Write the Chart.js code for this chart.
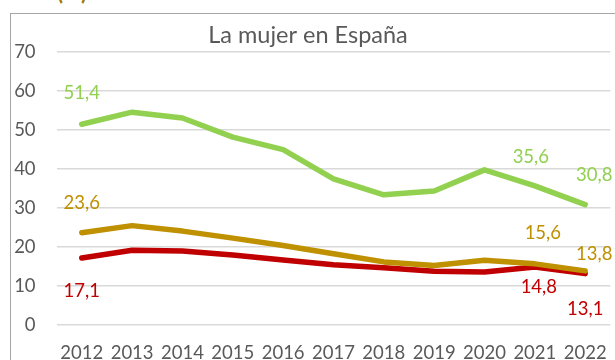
<!DOCTYPE html>
<html lang="es">
<head>
<meta charset="utf-8">
<title>La mujer en España</title>
<script src="https://cdn.jsdelivr.net/npm/chart.js@4/dist/chart.umd.min.js"></script>
<style>
  html, body { margin: 0; padding: 0; background: #fff; overflow: hidden; }
  body { width: 615px; height: 360px; position: relative; }
  #cabecera {
    position: absolute; left: -6px; top: -22px;
    font: bold 22px Lato, sans-serif; color: #9c7a00; white-space: nowrap;
  }
  #marco {
    position: absolute; left: 10px; top: 13px; width: 700px; height: 400px;
    border-left: 1px solid #a6a6a6; border-top: 1px solid #a6a6a6;
  }
  #grafico { position: absolute; left: 0; top: 0; }
</style>
</head>
<body>
<div id="cabecera">Casos (%)</div>
<div id="marco"></div>
<canvas id="grafico" width="624" height="370"></canvas>
<script>
// Años y series (porcentajes)
const anios = ['2012', '2013', '2014', '2015', '2016', '2017', '2018', '2019', '2020', '2021', '2022'];
const serieVerde = [51.4, 54.5, 53.0, 48.1, 44.9, 37.4, 33.3, 34.3, 39.7, 35.6, 30.8];
const serieOro = [23.6, 25.4, 24.0, 22.2, 20.3, 18.2, 16.1, 15.2, 16.5, 15.6, 13.8];
const serieRoja = [17.1, 19.1, 18.9, 17.9, 16.6, 15.4, 14.6, 13.7, 13.5, 14.8, 13.1];
const ticksY = [0, 10, 20, 30, 40, 50, 60, 70];

// Índices que llevan etiqueta de valor
const etiquetados = [0, 9, 10];

const VERDE = '#92d050';
const ORO = '#bf9000';
const ROJO = '#c00000';
const GRIS = '#595959';
const FUENTE = 'Lato, "Open Sans", sans-serif';

// desplazamiento de cada etiqueta respecto a su punto
const desplazamientos = [
  [[0, -31], [-4, -29], [9, -30]],
  [[0, -30], [8, -31], [9, -17]],
  [[0, 33], [4, 20], [0, 35]]
];

const etiquetasValor = {
  id: 'etiquetasValor',
  afterDatasetsDraw(chart) {
    const c = chart.ctx;
    c.save();
    c.font = '18.5px ' + FUENTE;
    c.textAlign = 'center';
    c.textBaseline = 'middle';
    chart.data.datasets.forEach((ds, d) => {
      const meta = chart.getDatasetMeta(d);
      etiquetados.forEach((i, k) => {
        const p = meta.data[i];
        const off = desplazamientos[d][k];
        c.fillStyle = ds.borderColor;
        c.fillText(ds.data[i].toFixed(1).replace('.', ','), p.x + off[0], p.y + off[1]);
      });
    });
    c.restore();
  }
};

function serie(datos, color) {
  return {
    data: datos,
    borderColor: color,
    backgroundColor: color,
    borderWidth: 5.5,
    borderCapStyle: 'round',
    borderJoinStyle: 'round',
    pointRadius: 0,
    tension: 0,
    fill: false
  };
}

new Chart(document.getElementById('grafico'), {
  type: 'line',
  data: {
    labels: anios,
    datasets: [serie(serieVerde, VERDE), serie(serieOro, ORO), serie(serieRoja, ROJO)]
  },
  options: {
    responsive: false,
    animation: false,
    layout: { padding: { left: 0, right: 8, top: 0, bottom: 0 } },
    plugins: {
      legend: { display: false },
      tooltip: { enabled: false },
      title: {
        display: true,
        text: 'La mujer en España',
        color: GRIS,
        font: { family: FUENTE, size: 23.5, weight: 'normal' },
        padding: { top: 20.9, bottom: 2.6 }
      }
    },
    scales: {
      x: {
        offset: true,
        grid: { display: false, drawTicks: false },
        border: { display: false },
        ticks: { color: GRIS, font: { family: FUENTE, size: 18.5 }, padding: 17, maxRotation: 0, autoSkip: false },
        afterFit(scale) { scale.height = 370 - 324.7; }
      },
      y: {
        min: 0,
        max: 70,
        afterBuildTicks(scale) { scale.ticks = ticksY.map(v => ({ value: v })); },
        grid: { color: '#d9d9d9', lineWidth: 1.5, drawTicks: false },
        border: { display: false },
        ticks: { color: GRIS, font: { family: FUENTE, size: 18.5 }, padding: 21 },
        afterFit(scale) { scale.width = 56.6; }
      }
    }
  },
  plugins: [etiquetasValor]
});
</script>
</body>
</html>
